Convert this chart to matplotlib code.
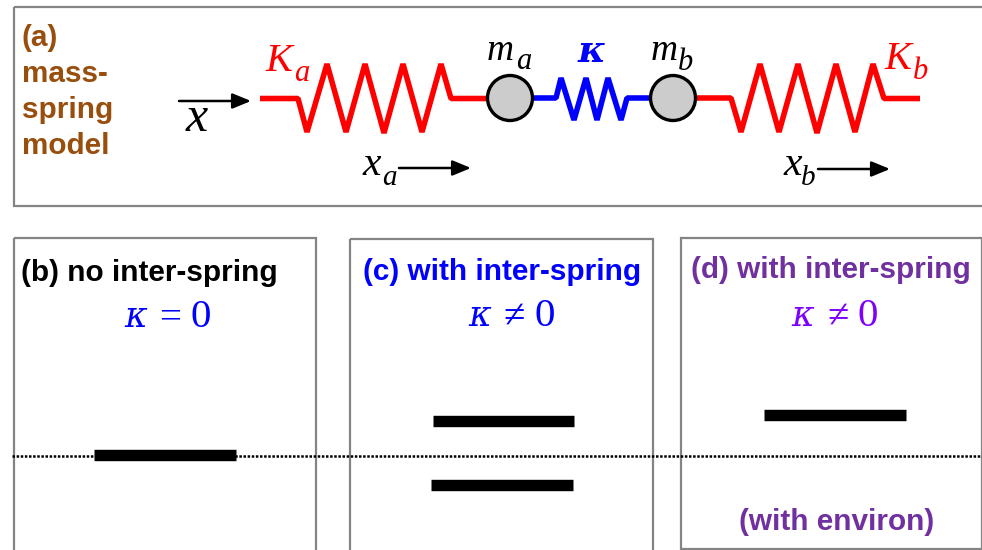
import matplotlib
matplotlib.use("Agg")
import matplotlib.pyplot as plt
from matplotlib.patches import Rectangle, Circle

W, H = 982, 550
SANS = "Liberation Sans"
SERIF = "Liberation Serif"
RED, BLUE, BROWN, PURPLE, VIOLET = "#ff0000", "#0000ff", "#984e0c", "#7030a0", "#8000ff"
GRAY = "#848484"

# Diagram geometry (pixel coordinates)
spring_a_x = [260, 298, 307, 327, 346, 365, 384, 403, 422, 441, 451, 487]
spring_a_y = [98.5, 98.5, 132, 64, 132, 64, 133, 64, 132, 64, 98.5, 98.5]
spring_k_x = [533, 556, 561, 574, 586, 597, 608, 621, 627, 650]
spring_k_y = [98, 98, 78, 120, 78, 120, 78, 120, 98, 98]
spring_b_x = [693, 731, 741, 760, 779, 798, 817, 836, 855, 873, 884, 920]
spring_b_y = [98, 98, 132, 64, 132, 64, 133, 64, 132, 64, 98.5, 98.5]
mass_x = [510, 673]
mass_y = [98, 98]
frames = [(14, 7, 975, 199), (14, 238, 302, 314), (350, 239, 303, 313), (681, 238, 301, 311)]
levels_x0 = [94, 432.7, 431.5, 764]
levels_x1 = [236, 574.5, 573.5, 906.5]
levels_y = [455, 421, 485.2, 415]
arrows = [(179, 101, 251), (399, 168, 471), (818, 169, 890)]
baseline_y = 456
kappa_x = [124, 468, 791]
sign_x = [170, 514, 838]
sign_txt = ["=", "≠", "≠"]
zero_x = [201, 545, 868]
eq_y = [327, 326, 326]
eq_col = [BLUE, BLUE, VIOLET]

fig = plt.figure(figsize=(W / 100, H / 100), dpi=100)
ax = fig.add_axes([0, 0, 1, 1])
ax.set_xlim(0, W)
ax.set_ylim(H, 0)
ax.axis("off")

for x, y, w, h in frames:
    ax.add_patch(Rectangle((x, y), w, h, fill=False, ec=GRAY, lw=1.6, zorder=2, clip_on=False))

ax.plot([12, W], [baseline_y, baseline_y], color="black", lw=1.8, ls=(0, (1, 0.65)), zorder=3)

for xs, ys, c in [(spring_a_x, spring_a_y, RED), (spring_k_x, spring_k_y, BLUE), (spring_b_x, spring_b_y, RED)]:
    ax.plot(xs, ys, color=c, lw=4.0, solid_joinstyle="bevel", solid_capstyle="butt", zorder=4)

for mx, my in zip(mass_x, mass_y):
    ax.add_patch(Circle((mx, my), 22.5, fc="#cccccc", ec="black", lw=2.4, zorder=5))

for x0, x1, y in zip(levels_x0, levels_x1, levels_y):
    ax.plot([x0, x1], [y, y], color="black", lw=8.2, solid_capstyle="butt", zorder=6)

for x0, y, x1 in arrows:
    ax.annotate("", xy=(x1, y), xytext=(x0, y), zorder=6,
                arrowprops=dict(arrowstyle="-|>,head_length=0.8,head_width=0.33", color="black",
                                lw=1.8, shrinkA=0, shrinkB=0, mutation_scale=14))

def sans(x, y, s, c, ha="left", size=21.4):
    ax.text(x, y, s, color=c, family=SANS, weight="bold", fontsize=size, ha=ha, va="baseline", zorder=7)

def it(x, y, s, c="black", size=27, ha="left", **kw):
    ax.text(x, y, s, color=c, family=SERIF, style="italic", fontsize=size, ha=ha, va="baseline", zorder=7, **kw)

def rm(x, y, s, c, size=27, ha="left"):
    ax.text(x, y, s, color=c, family=SERIF, fontsize=size, ha=ha, va="baseline", zorder=7)

for yy, s in zip([46, 82, 118, 154], ["(a)", "mass-", "spring", "model"]):
    sans(22, yy, s, BROWN)

sans(21, 281, "(b) no inter-spring", "black")
sans(363, 280, "(c) with inter-spring", BLUE)
sans(691, 278, "(d) with inter-spring", PURPLE)
sans(837, 530, "(with environ)", PURPLE, ha="center")

it(186, 131, "x", size=36)
it(265, 71, "K", RED, size=29)
it(294, 81, "a", RED, size=22)
it(487, 60, "m", size=27)
it(516, 69, "a", size=22)
ax.text(578, 62, "κ", color=BLUE, family="DejaVu Serif", style="italic", weight="bold", fontsize=27, va="baseline", zorder=7)
it(651, 60, "m", size=27)
it(678, 70, "b", size=22)
it(884, 69, "K", RED, size=29)
it(913, 79, "b", RED, size=22)
it(363, 175, "x", size=30)
it(382, 185, "a", size=21)
it(784, 175, "x", size=30)
it(801, 185, "b", size=21)

for kx, sx, zx, s, y, col in zip(kappa_x, sign_x, zero_x, sign_txt, eq_y, eq_col):
    ax.text(kx, y, "κ", color=col, family="DejaVu Serif", style="italic", fontsize=25, va="baseline", zorder=7)
    rm(sx, y + 1, s, col, size=28, ha="center")
    rm(zx, y, "0", col, size=29.5, ha="center")

fig.savefig("out.png", dpi=100)
